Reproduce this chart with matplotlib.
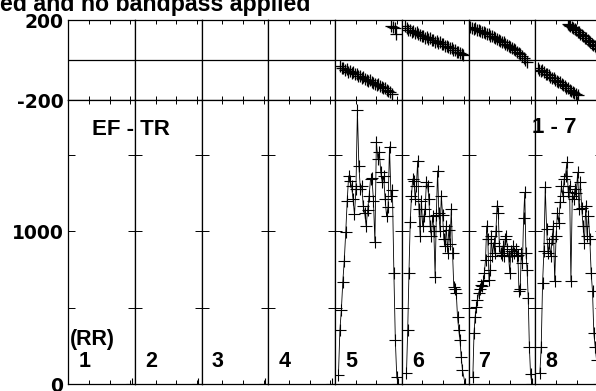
import numpy as np
import matplotlib.pyplot as plt

plt.rcParams['font.family'] = ['Liberation Sans', 'DejaVu Sans']
plt.rcParams['font.weight'] = 'bold'

# segment labels along the bottom panel
seg_labels = ['1', '2', '3', '4', '5', '6', '7', '8']

# intensity (RR) of the four visible pulses, segments 5-8
rr5 = [56, 353, 485, 670, 808, 993, 1198, 1363, 1330, 1297, 1210, 1112, 1277, 1792,
       1429, 1280, 1300, 1165, 1120, 1033, 1140, 1230, 1343, 1350, 1200, 927, 1587,
       1475, 1520, 1388, 1320, 1360, 1210, 1099, 1160, 1554, 1231, 1270, 728, 287, 43]
rr6 = [69, 353, 728, 1059, 1231, 1343, 1330, 1211, 1300, 1462, 1145, 967, 1200, 1033,
       1100, 1145, 1323, 1300, 1211, 1033, 967, 1100, 1000, 703, 1110, 1396, 1120, 1000,
       1231, 1110, 950, 901, 1033, 861, 1010, 920, 1145, 861, 637, 620, 597, 439, 353,
       287, 175, 89]
rr7 = [45, 331, 441, 507, 551, 595, 622, 650, 639, 672, 727, 815, 1035, 947, 683, 749,
       969, 837, 925, 859, 1002, 1167, 1123, 903, 859, 848, 903, 837, 947, 969, 881, 837,
       727, 870, 837, 903, 859, 881, 837, 848, 606, 620, 859, 793, 1086, 1255, 859, 749,
       562, 243, 67]
rr8 = [71, 243, 661, 870, 1288, 1013, 859, 925, 837, 947, 1035, 672, 969, 1123, 1057,
       1189, 1299, 1233, 1343, 1365, 1451, 1255, 1300, 672, 1233, 1211, 1280, 1250, 1387,
       1145, 1321, 1150, 1035, 925, 1167, 969, 1101, 947, 727, 606, 331, 243, 155]
rr_span = [(0.05, 0.925), (0.07, 0.91), (0.065, 0.93), (0.07, 0.92)]
zero_bin = 0.95

# position angle (top panel)
pa5 = [-30, -42, -38, -50, -46, -58, -55, -65, -62, -72, -70, -80, -78, -88, -85, -95,
       -98, -105, -102, -112, -115, -120, -125, -122, -132, -135, -142, -140, -150, -155,
       -160, -170]
pa5_wrap = [170, 165, 160, 130]
pa6 = [168, 158, 150, 152, 142, 145, 135, 138, 128, 125, 120, 122, 112, 115, 105, 108,
       100, 98, 92, 95, 86, 88, 80, 78, 72, 70, 65, 60, 58, 50, 52, 42, 40, 35, 30, 25]
pa7 = [165, 160, 155, 158, 150, 152, 145, 140, 142, 135, 132, 128, 122, 118, 115, 108,
       105, 100, 95, 90, 88, 80, 75, 72, 65, 58, 55, 48, 40, 35, 28, 20, 10, 0, -12]
pa8 = [-42, -50, -55, -52, -62, -68, -72, -75, -85, -88, -92, -98, -105, -110, -112,
       -120, -125, -130, -138, -142, -148, -155, -160, -165, -172, -176]
pa8_wrap = [178, 175, 168, 165, 158, 155, 148, 142, 138, 130, 125, 118, 112, 108, 100,
            95, 88, 82, 75, 70, 62, 55]

W, H = 596, 391
x0, seg_w = 68.3, 66.7


def pos(i, top, bottom):
    return [(x0 + i * seg_w) / W, 1 - bottom / H, seg_w / W, (bottom - top) / H]


def label(x, y, s, size):
    # x, y in pixels from the top-left, y is the baseline
    fig.text(x / W, 1 - y / H, s, fontsize=size, fontweight='bold',
             ha='left', va='baseline')


def style(ax, ylen):
    ax.set_xlim(0, 1)
    ax.set_xticks([0, 0.31, 0.62, 0.93])
    ax.set_xticklabels([])
    ax.tick_params(axis='x', direction='in', top=True, bottom=True, length=3, width=0.7)
    ax.tick_params(axis='y', direction='in', left=True, right=True, length=ylen, width=0.7)
    for s in ax.spines.values():
        s.set_linewidth(0.9)
    for t in ax.get_yticklabels():
        t.set_fontfamily('DejaVu Sans')
        t.set_fontsize(13.5)


fig = plt.figure(figsize=(W / 100, H / 100), dpi=100)

pa_data = {4: [(pa5, 0.075, 0.85), (pa5_wrap, 0.84, 0.92)],
           5: [(pa6, 0.05, 0.92)],
           6: [(pa7, 0.025, 0.875)],
           7: [(pa8, 0.035, 0.635), (pa8_wrap, 0.485, 0.935)]}
rr_data = {4: rr5, 5: rr6, 6: rr7, 7: rr8}

for i in range(8):
    axp = fig.add_axes(pos(i, 20, 100))
    axi = fig.add_axes(pos(i, 100, 384))

    axp.set_ylim(-200, 200)
    axp.axhline(0, color='black', lw=0.9)
    axp.set_yticks([-200, 200])
    axi.set_ylim(0, 1860)
    axi.set_yticks([0, 500, 1000, 1500])
    if i == 0:
        axp.set_yticklabels(['-200', '200'])
        axi.set_yticklabels(['0', '', '1000', ''])
    else:
        axp.set_yticklabels([])
        axi.set_yticklabels([])
    style(axp, 0)
    style(axi, 4.8)

    for vals, a, b in pa_data.get(i, []):
        xs = np.linspace(a, b, len(vals))
        axp.errorbar(xs, vals, yerr=22, fmt='+', color='black', ecolor='0.3',
                     elinewidth=0.8, ms=8, mew=0.9)

    if i in rr_data:
        a, b = rr_span[i - 4]
        xs = np.append(np.linspace(a, b, len(rr_data[i])), zero_bin)
        ys = np.append(rr_data[i], 0)
    else:
        xs, ys = np.array([zero_bin]), np.array([0])
    axi.plot(xs, ys, color='black', lw=0.6, marker='+', ms=9, mew=0.8)

    label(x0 + i * seg_w + 10, 367, seg_labels[i], 15.5)

label(70, 345, '(RR)', 15.5)
label(91.7, 135, 'EF - TR', 16)
label(531.7, 133, '1 - 7', 16)

fig.text(310 / W, 1 - 11.5 / H, 'ed and no bandpass applied', fontsize=16.7,
         fontweight='bold', ha='right', va='baseline')

fig.savefig('out.png', dpi=100)
